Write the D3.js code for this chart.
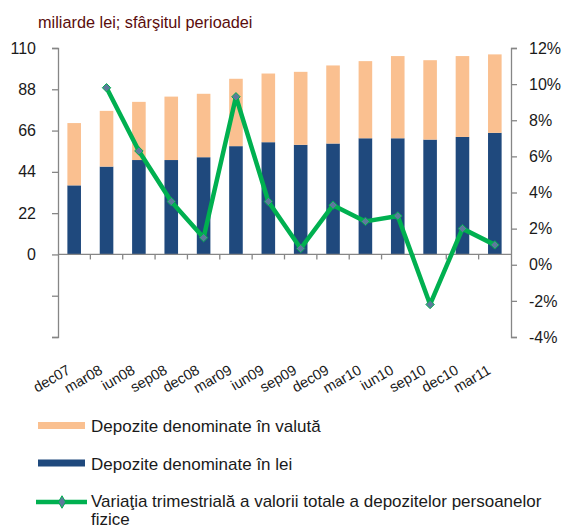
<!DOCTYPE html>
<html>
<head>
<meta charset="utf-8">
<script src="https://cdn.jsdelivr.net/npm/d3@7/dist/d3.min.js"></script>
<style>
  body { margin: 0; background: #fff; }
  text { font-family: "Liberation Sans", Arial, sans-serif; }
</style>
</head>
<body>
<script>
// categories (quarters)
const categories = ["dec07", "mar08", "iun08", "sep08", "dec08", "mar09", "iun09",
  "sep09", "dec09", "mar10", "iun10", "sep10", "dec10", "mar11"];
// deposits in lei (bn lei)
const depLei = [36.8, 46.8, 50.3, 50.3, 51.8, 57.7, 59.8, 58.4, 59.1, 61.9, 61.9, 61.2, 62.6, 64.8];
// deposits in foreign currency (bn lei)
const depValuta = [33.2, 29.7, 31.0, 33.8, 33.8, 35.9, 36.6, 38.9, 41.6, 41.1, 43.8, 42.3, 43.1, 41.8];
// quarterly change of total deposits (%)
const variatia = [null, 9.8, 6.3, 3.5, 1.5, 9.3, 3.5, 0.9, 3.3, 2.4, 2.7, -2.2, 2.0, 1.1];
// tick labels
const leftTicks = [-44, -22, 0, 22, 44, 66, 88, 110];
const rightTicks = [-4, -2, 0, 2, 4, 6, 8, 10, 12];

const W = 565, H = 529;
const plotL = 58, plotR = 511, plotT = 48, plotB = 337;
const colValuta = "#fac090", colLei = "#1f497d", colLine = "#00b050", colMarker = "#5d7a9c";
const axisCol = "#868686", textCol = "#1a1a1a";

const svg = d3.select("body").append("svg")
  .attr("width", W)
  .attr("height", H)
  .style("background", "#fff");

// title
svg.append("text")
  .attr("x", 38)
  .attr("y", 28)
  .text("miliarde lei; sfârşitul perioadei")
  .style("font-size", "16.3px")
  .style("fill", "#5a0c0c");

const x = d3.scaleBand()
  .domain(categories)
  .range([plotL, plotR])
  .paddingInner(0.58)
  .paddingOuter(0.29);

const yL = d3.scaleLinear().domain([-44, 110]).range([plotB, plotT]);
const yR = d3.scaleLinear().domain([-4, 12]).range([plotB, plotT]);

// stacked bars
const rows = categories.map((c, i) => ({ cat: c, lei: depLei[i], valuta: depValuta[i] }));
const stack = d3.stack().keys(["lei", "valuta"])(rows);
const colors = { lei: colLei, valuta: colValuta };

svg.append("g").selectAll("g")
  .data(stack)
  .join("g")
  .attr("fill", d => colors[d.key])
  .selectAll("rect")
  .data(d => d)
  .join("rect")
  .attr("x", d => x(d.data.cat))
  .attr("width", x.bandwidth())
  .attr("y", d => yL(d[1]))
  .attr("height", d => yL(d[0]) - yL(d[1]));

// left axis
const axL = svg.append("g")
  .attr("transform", "translate(" + plotL + ",0)")
  .call(d3.axisLeft(yL).tickValues(leftTicks).tickSize(6).tickPadding(16)
    .tickFormat(d => d >= 0 ? d : ""));
// right axis
const axR = svg.append("g")
  .attr("transform", "translate(" + plotR + ",0)")
  .call(d3.axisRight(yR).tickValues(rightTicks).tickSize(6).tickPadding(12)
    .tickFormat(d => d + "%"));

[axL, axR].forEach(a => {
  a.select(".domain").attr("stroke", axisCol).attr("stroke-width", 1.3);
  a.selectAll(".tick line").attr("stroke", axisCol).attr("stroke-width", 1.3);
  a.selectAll(".tick text").style("font-size", "16px").style("fill", textCol)
    .style("font-family", "'Liberation Sans', Arial, sans-serif");
});

// category axis at zero
const y0 = yL(0);
const cat = svg.append("g");
cat.append("line")
  .attr("x1", plotL).attr("x2", plotR)
  .attr("y1", y0).attr("y2", y0)
  .attr("stroke", axisCol).attr("stroke-width", 1.3);
cat.selectAll(".ct")
  .data(d3.range(1, categories.length))
  .join("line")
  .attr("x1", i => plotL + i * x.step())
  .attr("x2", i => plotL + i * x.step())
  .attr("y1", y0).attr("y2", y0 + 5)
  .attr("stroke", axisCol).attr("stroke-width", 1.3);

// rotated category labels
svg.append("g").selectAll("text")
  .data(categories)
  .join("text")
  .attr("transform", d => "translate(" + (x(d) + x.bandwidth() / 2 - 3) + ",373) rotate(-30)")
  .attr("text-anchor", "end")
  .style("font-size", "14.5px")
  .style("fill", textCol)
  .text(d => d);

// line series
const pts = categories.map((c, i) => ({ cat: c, v: variatia[i] })).filter(d => d.v !== null);
const line = d3.line()
  .x(d => x(d.cat) + x.bandwidth() / 2)
  .y(d => yR(d.v));

svg.append("path")
  .datum(pts)
  .attr("d", line)
  .attr("fill", "none")
  .attr("stroke", colLine)
  .attr("stroke-width", 4.5)
  .attr("stroke-linejoin", "round");

svg.append("g").selectAll("path")
  .data(pts)
  .join("path")
  .attr("transform", d => "translate(" + (x(d.cat) + x.bandwidth() / 2) + "," + yR(d.v) + ")")
  .attr("d", d3.symbol(d3.symbolDiamond2, 45))
  .attr("fill", colMarker)
  .attr("stroke", colLine)
  .attr("stroke-width", 1);

// legend
const lg = svg.append("g");
lg.append("rect").attr("x", 38).attr("y", 422).attr("width", 47).attr("height", 7).attr("fill", colValuta);
lg.append("text").attr("x", 91).attr("y", 432).style("font-size", "17px").style("fill", textCol)
  .text("Depozite denominate în valută");
lg.append("rect").attr("x", 38).attr("y", 459.5).attr("width", 47).attr("height", 7).attr("fill", colLei);
lg.append("text").attr("x", 91).attr("y", 470).style("font-size", "17px").style("fill", textCol)
  .text("Depozite denominate în lei");
lg.append("line").attr("x1", 36).attr("x2", 87).attr("y1", 502).attr("y2", 502)
  .attr("stroke", colLine).attr("stroke-width", 4.5);
lg.append("path").attr("transform", "translate(62,502)")
  .attr("d", d3.symbol(d3.symbolDiamond, 45))
  .attr("fill", colMarker).attr("stroke", colLine).attr("stroke-width", 1);
const t3 = lg.append("text").style("font-size", "17px").style("fill", textCol);
t3.append("tspan").attr("x", 91).attr("y", 507)
  .text("Variaţia trimestrială a valorii totale a depozitelor persoanelor");
t3.append("tspan").attr("x", 91).attr("y", 525).text("fizice");
</script>
</body>
</html>
